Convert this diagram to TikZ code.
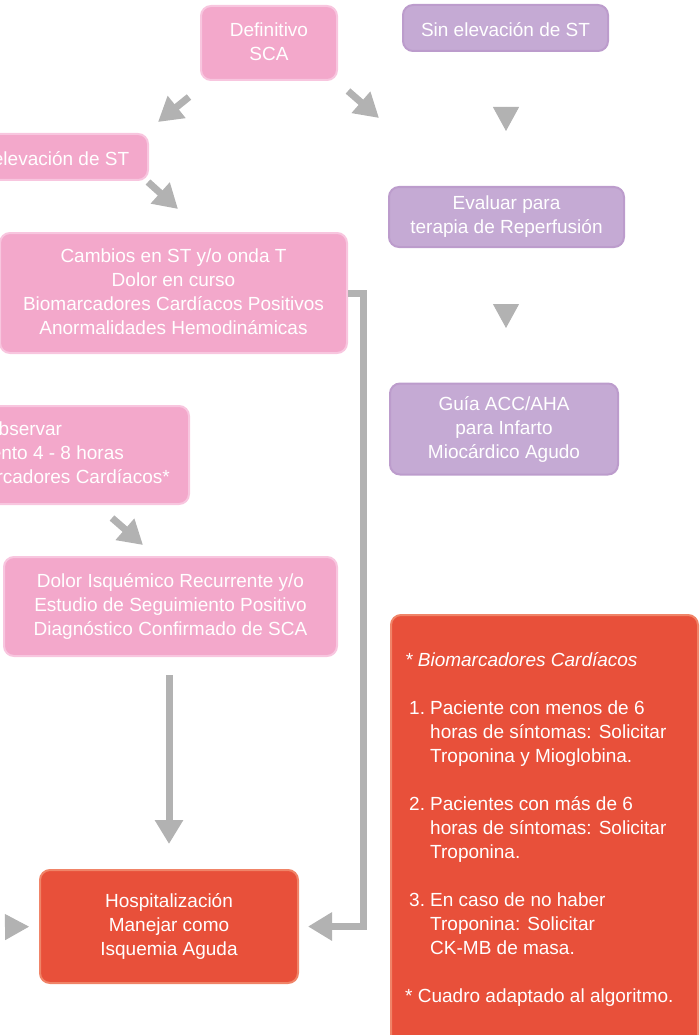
\documentclass[tikz,border=0pt]{standalone}
\usepackage{fontspec}
\setmainfont{Liberation Sans}
\usetikzlibrary{arrows.meta}
\definecolor{pinkfill}{RGB}{243,168,203}
\definecolor{pinkline}{RGB}{248,198,223}
\definecolor{purpfill}{RGB}{197,170,212}
\definecolor{purpline}{RGB}{188,156,204}
\definecolor{redfill}{RGB}{232,80,58}
\definecolor{redline}{RGB}{240,132,104}
\definecolor{arrowgray}{RGB}{178,178,178}
\newcommand\mystrut{\rule[-2pt]{0pt}{22pt}}
\begin{document}
\begin{tikzpicture}[x=1pt,y=-1pt,
  box/.style={rectangle, rounded corners=10pt, line width=2pt, text=white, align=center,
    font=\fontsize{19}{24}\selectfont, inner sep=0pt,
    execute at begin node=\mystrut, execute at end node=\mystrut},
  pinkbox/.style={box, fill=pinkfill, draw=pinkline},
  purpbox/.style={box, fill=purpfill, draw=purpline},
  redbox/.style={box, fill=redfill, draw=redline},
  flow/.style={draw=arrowgray, line width=7pt, line join=miter, -{Triangle[length=24pt,width=27pt]}},
  tri/.style={draw=arrowgray, line width=1pt, -{Triangle[length=24pt,width=26pt]}},
  listtext/.style={text=white, align=left, inner sep=0pt, font=\fontsize{19}{24}\selectfont, anchor=north west}
]
\clip (0,0) rectangle (700,1035);

% nodes
\node[pinkbox, minimum width=136pt, minimum height=74pt] (def) at (269,43) {Definitivo\\SCA};
\node[purpbox, minimum width=205pt, minimum height=46pt] (sin) at (505.5,28) {Sin elevación de ST};
\node[pinkbox, minimum width=214pt, minimum height=46pt] (con) at (41,157) {Con elevación de ST};
\node[purpbox, minimum width=235pt, minimum height=60pt] (eva) at (506.5,217) {Evaluar para\\terapia de Reperfusión};
\node[pinkbox, minimum width=347pt, minimum height=120pt] (cam) at (173.5,293) {Cambios en ST y/o onda T\\Dolor en curso\\Biomarcadores Cardíacos Positivos\\Anormalidades Hemodinámicas};
\node[purpbox, minimum width=228pt, minimum height=91pt] (gui) at (504,429) {Guía ACC/AHA\\para Infarto\\Miocárdico Agudo};
\node[pinkbox, minimum width=332pt, minimum height=98pt] (obs) at (23,455) {Observar\\Seguimiento 4 - 8 horas\\Repetir Biomarcadores Cardíacos*};
\node[pinkbox, minimum width=333pt, minimum height=99pt] (dol) at (170.5,606.5) {Dolor Isquémico Recurrente y/o\\Estudio de Seguimiento Positivo\\Diagnóstico Confirmado de SCA};
\node[redbox, minimum width=258pt, minimum height=113pt] (hos) at (169,926.5) {Hospitalización\\Manejar como\\Isquemia Aguda};
\node[redbox, minimum width=307pt, minimum height=440pt, anchor=north west] (bio) at (390,614) {};
\node[listtext] (biotext) at (405,646) {\mystrut\textit{* Biomarcadores Cardíacos}\\
\mbox{}\\
\hspace*{4pt}\makebox[21pt][l]{1.}Paciente con menos de 6\\
\hspace*{25pt}horas de síntomas: Solicitar\\
\hspace*{25pt}Troponina y Mioglobina.\\
\mbox{}\\
\hspace*{4pt}\makebox[21pt][l]{2.}Pacientes con más de 6\\
\hspace*{25pt}horas de síntomas: Solicitar\\
\hspace*{25pt}Troponina.\\
\mbox{}\\
\hspace*{4pt}\makebox[21pt][l]{3.}En caso de no haber\\
\hspace*{25pt}Troponina: Solicitar\\
\hspace*{25pt}CK-MB de masa.\\
\mbox{}\\
* Cuadro adaptado al algoritmo.};

% free arrow ends
\coordinate (a1s) at (189,97);  \coordinate (a1e) at (158,122);
\coordinate (a2s) at (348,91);  \coordinate (a2e) at (379,118);
\coordinate (a3s) at (148,182); \coordinate (a3e) at (178,209);
\coordinate (a4s) at (112,518); \coordinate (a4e) at (143,545);
\coordinate (t1s) at (506,107); \coordinate (t1e) at (506,131);
\coordinate (t2s) at (506,304); \coordinate (t2e) at (506,328);
\coordinate (t3s) at (5,927);

% connectors
\draw[flow] (a1s) -- (a1e);
\draw[flow] (a2s) -- (a2e);
\draw[flow] (a3s) -- (a3e);
\draw[flow] (a4s) -- (a4e);
\draw[tri] (t1s) -- (t1e);
\draw[tri] (t2s) -- (t2e);
\draw[tri, shorten >=10pt] (t3s) -- (hos.west);
\draw[flow, shorten <=18pt, shorten >=25pt] (hos.north |- dol.south) -- (hos.north);
\draw[flow, shorten >=9pt] (cam.east) -- ++(15,0) |- (hos.east);
\end{tikzpicture}
\end{document}
